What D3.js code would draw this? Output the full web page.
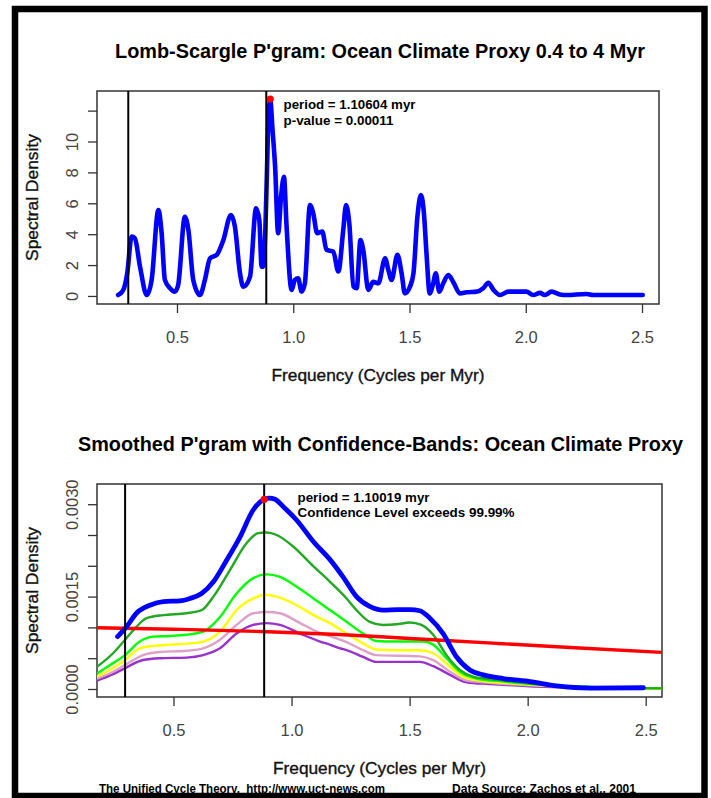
<!DOCTYPE html>
<html><head><meta charset="utf-8">
<script src="https://cdn.jsdelivr.net/npm/d3@7"></script>
<style>
html,body{margin:0;padding:0;background:#fff;}
svg{display:block;}
</style></head>
<body>
<svg id="chart" width="711" height="798"></svg>
<script>
// ---------- data ----------
// Top panel: Lomb-Scargle periodogram (frequency, spectral density)
const lsFreq = [0.247,0.269,0.286,0.305,0.319,0.341,0.370,0.391,0.420,0.434,0.448,0.470,0.491,0.505,0.534,0.549,0.570,0.599,0.620,0.642,0.671,0.699,0.732,0.749,0.771,0.785,0.814,0.840,0.854,0.864,0.871,0.880,0.886,0.893,0.901,0.911,0.922,0.935,0.948,0.960,0.971,0.993,1.007,1.021,1.036,1.050,1.072,1.086,1.103,1.125,1.143,1.172,1.194,1.215,1.227,1.241,1.259,1.273,1.289,1.301,1.323,1.344,1.366,1.395,1.409,1.423,1.448,1.466,1.480,1.502,1.517,1.534,1.549,1.562,1.573,1.587,1.602,1.613,1.628,1.645,1.667,1.688,1.717,1.746,1.789,1.817,1.839,1.861,1.889,1.925,2.003,2.032,2.061,2.082,2.111,2.147,2.175,2.261,2.290,2.503];
const lsPower = [0.06,0.39,1.47,3.84,3.73,1.90,0.06,1.04,5.57,4.06,1.04,0.50,0.28,0.71,5.13,4.27,1.04,0.06,1.04,2.44,2.66,3.60,5.24,4.50,1.47,0.60,1.25,5.67,4.92,1.90,1.90,4.30,7.50,11.40,12.69,10.74,8.37,4.06,6.50,7.72,4.60,0.39,1.04,1.14,0.28,0.82,5.89,5.35,4.06,4.17,2.98,2.88,1.58,4.27,5.89,4.70,0.60,0.50,3.62,2.98,0.39,0.91,0.82,2.44,1.68,1.04,2.66,1.47,0.17,0.60,1.47,5.13,6.54,5.35,2.77,0.17,0.82,1.47,0.28,0.82,1.36,0.91,0.17,0.24,0.28,0.50,0.86,0.39,0.06,0.28,0.28,0.06,0.20,0.06,0.28,0.10,0.06,0.13,0.06,0.06];
const lsPeak = {freq: 0.901, power: 12.75};
const lsMarkers = [0.2905, 0.884];
const lsYTicks = [0, 2, 4, 6, 8, 10, 12];
const lsYTickLabels = ["0", "2", "4", "6", "8", "10", ""];
const xTicks = [0.5, 1.0, 1.5, 2.0, 2.5];
const xTickLabels = ["0.5", "1.0", "1.5", "2.0", "2.5"];

// Bottom panel: smoothed periodogram + confidence bands
const spBlueFreq = [0.263,0.301,0.343,0.400,0.457,0.527,0.570,0.619,0.669,0.725,0.782,0.838,0.885,0.905,0.930,0.965,1.022,1.093,1.163,1.218,1.275,1.331,1.388,1.450,1.501,1.543,1.586,1.642,1.699,1.755,1.812,1.897,2.010,2.123,2.264,2.490];
const spBlue = [0.00085,0.00101,0.00123,0.00136,0.00142,0.00143,0.00147,0.00155,0.00174,0.00209,0.00247,0.00291,0.00308,0.00310,0.00308,0.00296,0.00274,0.00239,0.00210,0.00182,0.00150,0.00134,0.00128,0.00129,0.00129,0.00127,0.00115,0.00090,0.00052,0.00031,0.00023,0.00017,0.00012,0.00005,0.000015,0.00002];

const dkGreenFreq = [0.176,0.244,0.295,0.343,0.386,0.457,0.555,0.619,0.669,0.739,0.810,0.859,0.895,0.937,1.008,1.093,1.163,1.233,1.275,1.331,1.388,1.444,1.501,1.550,1.600,1.656,1.713,1.769,1.868,2.010,2.151,2.293,2.569];
const dkGreen = [0.00036,0.00058,0.00080,0.00101,0.00115,0.00120,0.00123,0.00128,0.00150,0.00193,0.00237,0.00253,0.00254,0.00250,0.00231,0.00199,0.00174,0.00147,0.00128,0.00109,0.00104,0.00105,0.00108,0.00104,0.00088,0.00055,0.00031,0.00020,0.00015,0.00009,0.00005,0.00003,0.00001];

const ltGreenFreq = [0.176,0.244,0.295,0.357,0.414,0.485,0.555,0.626,0.697,0.767,0.838,0.895,0.951,1.022,1.093,1.163,1.233,1.303,1.359,1.444,1.557,1.600,1.656,1.713,1.783,1.897,2.081,2.293,2.569];
const ltGreen = [0.00025,0.00042,0.00055,0.00077,0.00085,0.00086,0.00088,0.00093,0.00117,0.00155,0.00180,0.00186,0.00182,0.00166,0.00147,0.00128,0.00109,0.00090,0.00078,0.00077,0.00077,0.00072,0.00050,0.00028,0.00017,0.00012,0.00006,0.00003,0.00001];

const yellowFreq = [0.176,0.244,0.295,0.357,0.414,0.485,0.570,0.626,0.697,0.767,0.838,0.888,0.937,1.022,1.093,1.163,1.233,1.303,1.359,1.444,1.543,1.600,1.671,1.727,1.798,1.939,2.151,2.569];
const yellow = [0.00020,0.00034,0.00047,0.00066,0.00070,0.00072,0.00074,0.00077,0.00093,0.00128,0.00147,0.00153,0.00150,0.00136,0.00120,0.00107,0.00090,0.00074,0.00064,0.00063,0.00063,0.00058,0.00036,0.00020,0.000135,0.00009,0.00004,0.000005];

const pinkFreq = [0.176,0.244,0.295,0.371,0.442,0.555,0.626,0.697,0.767,0.838,0.895,0.951,1.036,1.121,1.162,1.206,1.233,1.303,1.359,1.543,1.600,1.671,1.741,1.840,2.010,2.293,2.569];
const pink = [0.00017,0.00028,0.00039,0.00055,0.00060,0.00062,0.00066,0.00080,0.00104,0.00123,0.00125,0.00123,0.00107,0.00091,0.00086,0.00080,0.00076,0.00063,0.00055,0.00053,0.00047,0.00028,0.000135,0.00010,0.00006,0.000025,0.000005];

const purpleFreq = [0.176,0.244,0.295,0.371,0.442,0.555,0.626,0.697,0.767,0.838,0.895,0.951,1.036,1.121,1.162,1.206,1.233,1.303,1.359,1.543,1.600,1.671,1.741,1.840,2.010,2.293,2.569];
const purple = [0.000135,0.00024,0.00034,0.00047,0.00050,0.00051,0.00055,0.00066,0.00090,0.00104,0.00107,0.00104,0.00090,0.00077,0.00072,0.00066,0.00063,0.00052,0.00044,0.00044,0.00037,0.00023,0.00011,0.00008,0.000045,0.00002,0.000005];

const redFreq = [0.176,0.5,0.9,1.2,1.5,1.87,2.2,2.569];
const red = [0.000995,0.00097,0.00093,0.000885,0.00082,0.00074,0.00067,0.000595];

const spPeak = {freq: 0.884, power: 0.00308};
const spMarkers = [0.295, 0.884];
const spYTicks = [0, 0.0005, 0.0010, 0.0015, 0.0020, 0.0025, 0.0030];
const spYTickLabels = ["0.0000", "", "", "0.0015", "", "", "0.0030"];

// ---------- drawing ----------
const svg = d3.select("#chart");
const SANS = "'Liberation Sans', Arial, Helvetica, sans-serif";
const NARROW = "'Liberation Sans Narrow', 'Arial Narrow', 'Liberation Sans', Arial, sans-serif";

// outer frame
svg.append("rect").attr("x", 15).attr("y", 9).attr("width", 689.5).attr("height", 787)
  .attr("fill", "none").attr("stroke", "#000").attr("stroke-width", 6.5);

function zip(a, b) { return a.map((d, i) => [d, b[i]]); }

function panel(opt) {
  const x = d3.scaleLinear().domain(opt.xDomain).range([opt.left, opt.right]);
  const y = d3.scaleLinear().domain(opt.yDomain).range([opt.bottom, opt.top]);
  const g = svg.append("g");
  const clipId = "clip" + opt.id;
  svg.append("clipPath").attr("id", clipId).append("rect")
    .attr("x", opt.left).attr("y", opt.top).attr("width", opt.right - opt.left).attr("height", opt.bottom - opt.top);

  // axes
  const xAxis = d3.axisBottom(x).tickValues(xTicks).tickFormat((d, i) => xTickLabels[i]).tickSize(9).tickSizeOuter(0);
  const gx = g.append("g").attr("transform", `translate(0,${opt.bottom})`).call(xAxis);
  gx.select(".domain").remove();
  gx.selectAll(".tick line").attr("stroke", "#333").attr("stroke-width", 1.3);
  gx.selectAll(".tick text").attr("y", 39).attr("dy", 0)
    .attr("font-family", NARROW).attr("font-size", 16.5).attr("fill", "#444");

  const yAxis = d3.axisLeft(y).tickValues(opt.yTicks).tickFormat((d, i) => opt.yTickLabels[i]).tickSize(9).tickSizeOuter(0);
  const gy = g.append("g").attr("transform", `translate(${opt.left},0)`).call(yAxis);
  gy.select(".domain").remove();
  gy.selectAll(".tick line").attr("stroke", "#333").attr("stroke-width", 1.3);
  gy.selectAll(".tick text").attr("transform", "rotate(-90)").attr("x", 0).attr("y", -19).attr("dy", 0)
    .attr("text-anchor", "middle").attr("font-family", NARROW).attr("font-size", 16.5).attr("fill", "#444");

  // box
  g.append("rect").attr("x", opt.left).attr("y", opt.top).attr("width", opt.right - opt.left).attr("height", opt.bottom - opt.top)
    .attr("fill", "none").attr("stroke", "#333").attr("stroke-width", 1.5);

  const plot = g.append("g").attr("clip-path", `url(#${clipId})`);
  const line = d3.line().x(d => x(d[0])).y(d => y(d[1])).curve(d3.curveMonotoneX);

  opt.series.forEach(s => {
    plot.append("path").datum(zip(s.f, s.v)).attr("d", line)
      .attr("fill", "none").attr("stroke", s.color).attr("stroke-width", s.w)
      .attr("stroke-linejoin", "round").attr("stroke-linecap", "round");
  });

  opt.markers.forEach(m => {
    plot.append("line").attr("x1", x(m)).attr("x2", x(m)).attr("y1", opt.top).attr("y2", opt.bottom)
      .attr("stroke", "#000").attr("stroke-width", 2);
  });

  g.append("circle").attr("cx", x(opt.peak.freq)).attr("cy", y(opt.peak.power)).attr("r", 3.6).attr("fill", "#ff0000");

  // titles
  g.append("text").attr("x", opt.titleX).attr("y", opt.titleY).attr("text-anchor", "middle")
    .attr("font-family", SANS).attr("font-weight", "bold").attr("font-size", 19.5)
    .attr("textLength", opt.titleLen).attr("lengthAdjust", "spacingAndGlyphs").text(opt.title);

  g.append("text").attr("x", (opt.left + opt.right) / 2).attr("y", opt.bottom + 77).attr("text-anchor", "middle")
    .attr("font-family", SANS).attr("font-size", 17).attr("fill", "#111").attr("stroke", "#111").attr("stroke-width", 0.35)
    .attr("textLength", 213).attr("lengthAdjust", "spacingAndGlyphs").text("Frequency (Cycles per Myr)");

  g.append("text").attr("transform", `translate(37.5,${(opt.top + opt.bottom) / 2}) rotate(-90)`).attr("text-anchor", "middle")
    .attr("font-family", SANS).attr("font-size", 17).attr("fill", "#111").attr("stroke", "#111").attr("stroke-width", 0.35)
    .attr("textLength", 127).attr("lengthAdjust", "spacingAndGlyphs").text("Spectral Density");

  opt.notes.forEach(n => {
    g.append("text").attr("x", n.x).attr("y", n.y).attr("font-family", SANS).attr("font-weight", "bold")
      .attr("font-size", 13).attr("fill", "#000")
      .attr("textLength", n.len).attr("lengthAdjust", "spacingAndGlyphs").text(n.text);
  });
}

panel({
  id: 1, left: 97, right: 659, top: 91, bottom: 304,
  xDomain: [0.156, 2.573], yDomain: [-0.52, 13.27],
  yTicks: lsYTicks, yTickLabels: lsYTickLabels,
  series: [{f: lsFreq, v: lsPower, color: "#0000ff", w: 4.6}],
  markers: lsMarkers, peak: lsPeak,
  title: "Lomb-Scargle P'gram: Ocean Climate Proxy 0.4 to 4 Myr", titleX: 380, titleY: 58, titleLen: 530,
  notes: [
    {x: 283.5, y: 109, text: "period = 1.10604 myr", len: 132},
    {x: 283.5, y: 125, text: "p-value = 0.00011", len: 110}
  ]
});

panel({
  id: 2, left: 97, right: 662, top: 484, bottom: 697,
  xDomain: [0.176, 2.569], yDomain: [-0.00013, 0.003328],
  yTicks: spYTicks, yTickLabels: spYTickLabels,
  series: [
    {f: purpleFreq, v: purple, color: "#9932cc", w: 2.4},
    {f: pinkFreq, v: pink, color: "#dda0c8", w: 2.4},
    {f: yellowFreq, v: yellow, color: "#ffff00", w: 2.4},
    {f: ltGreenFreq, v: ltGreen, color: "#00ff00", w: 2.4},
    {f: dkGreenFreq, v: dkGreen, color: "#22a822", w: 2.4},
    {f: redFreq, v: red, color: "#ff0000", w: 3.4},
    {f: spBlueFreq, v: spBlue, color: "#0000ff", w: 4.8}
  ],
  markers: spMarkers, peak: spPeak,
  title: "Smoothed P'gram with Confidence-Bands: Ocean Climate Proxy", titleX: 380.5, titleY: 451, titleLen: 605,
  notes: [
    {x: 297.5, y: 502, text: "period = 1.10019 myr", len: 132},
    {x: 297.5, y: 516.5, text: "Confidence Level exceeds 99.99%", len: 217}
  ]
});

// footer
svg.append("text").attr("x", 99).attr("y", 793).attr("font-family", NARROW).attr("font-weight", "bold")
  .attr("font-size", 12.5).style("white-space", "pre")
  .attr("textLength", 286).attr("lengthAdjust", "spacingAndGlyphs")
  .text("The Unified Cycle Theory,  http://www.uct-news.com");
svg.append("text").attr("x", 452).attr("y", 793).attr("font-family", NARROW).attr("font-weight", "bold")
  .attr("font-size", 12.5)
  .attr("textLength", 184).attr("lengthAdjust", "spacingAndGlyphs")
  .text("Data Source: Zachos et al., 2001");
</script>
</body></html>
